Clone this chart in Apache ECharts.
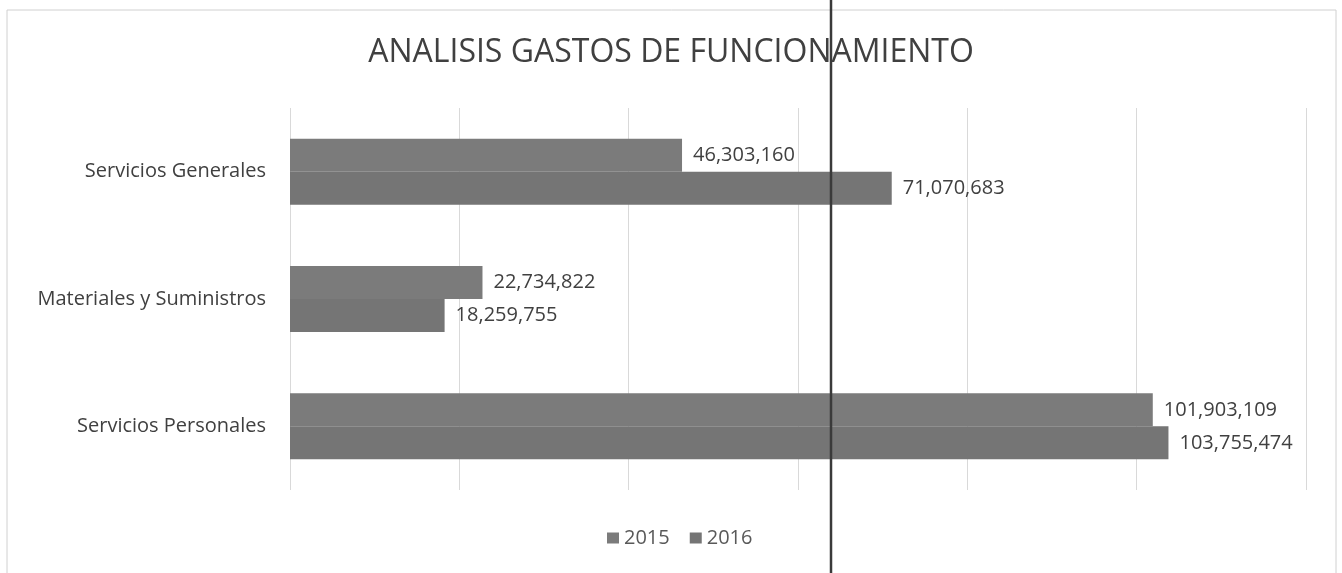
<!DOCTYPE html>
<html>
<head>
<meta charset="utf-8">
<script src="https://cdn.jsdelivr.net/npm/echarts@6/dist/echarts.min.js"></script>
<style>
  html, body { margin: 0; padding: 0; background: #fff; }
  #chart { width: 1342px; height: 573px; }
</style>
</head>
<body>
<div id="chart"></div>
<script>
// categorias de gasto (de arriba hacia abajo)
var categorias = ['Servicios Generales', 'Materiales y Suministros', 'Servicios Personales'];
var anios = ['2015', '2016'];
var valores2015 = [46303160, 22734822, 101903109];
var valores2016 = [71070683, 18259755, 103755474];

var myChart = echarts.init(document.getElementById('chart'));

function fmt(v) {
    return String(v).replace(/\B(?=(\d{3})+(?!\d))/g, ',');
}

var etiqueta = {
    show: true,
    position: 'right',
    distance: 11,
    color: '#404040',
    fontSize: 20,
    fontFamily: 'Open Sans',
    formatter: function (p) { return fmt(p.value); }
};

var option = {
    backgroundColor: '#fff',
    title: {
        text: 'ANALISIS GASTOS DE FUNCIONAMIENTO',
        left: 'center',
        top: 32,
        textStyle: { fontSize: 32, fontWeight: 'normal', color: '#404040', fontFamily: 'Open Sans' }
    },
    legend: {
        data: anios,
        bottom: 20,
        left: 602,
        icon: 'rect',
        itemWidth: 12,
        itemHeight: 11,
        itemGap: 20,
        textStyle: { fontSize: 20, color: '#595959', fontFamily: 'Open Sans' }
    },
    grid: { left: 290, right: 36, top: 108, bottom: 83 },
    xAxis: {
        type: 'value',
        min: 0,
        max: 120000000,
        interval: 20000000,
        axisLabel: { show: false },
        axisLine: { show: false },
        axisTick: { show: false },
        splitLine: { lineStyle: { color: '#d9d9d9', width: 1 } }
    },
    yAxis: {
        type: 'category',
        inverse: true,
        data: categorias,
        axisLine: { show: false },
        axisTick: { show: false },
        axisLabel: { color: '#404040', fontSize: 20, margin: 24, fontFamily: 'Open Sans' }
    },
    series: [{
        name: '2015',
        type: 'bar',
        data: valores2015,
        barWidth: 33,
        barGap: '0%',
        itemStyle: { color: '#7b7b7b' },
        label: etiqueta
    }, {
        name: '2016',
        type: 'bar',
        data: valores2016,
        barWidth: 33,
        itemStyle: { color: '#757575' },
        label: etiqueta
    }],
    graphic: [{
        // marco del grafico escaneado
        type: 'rect',
        shape: { x: 7, y: 10, width: 1329, height: 570 },
        style: { fill: 'none', stroke: '#d0d0d0', lineWidth: 1 }
    }, {
        // linea del doblez del papel
        type: 'line',
        shape: { x1: 831, y1: 0, x2: 831, y2: 573 },
        style: { stroke: '#3a3a3a', lineWidth: 2.5 },
        z: 100
    }]
};

myChart.setOption(option);
</script>
</body>
</html>
